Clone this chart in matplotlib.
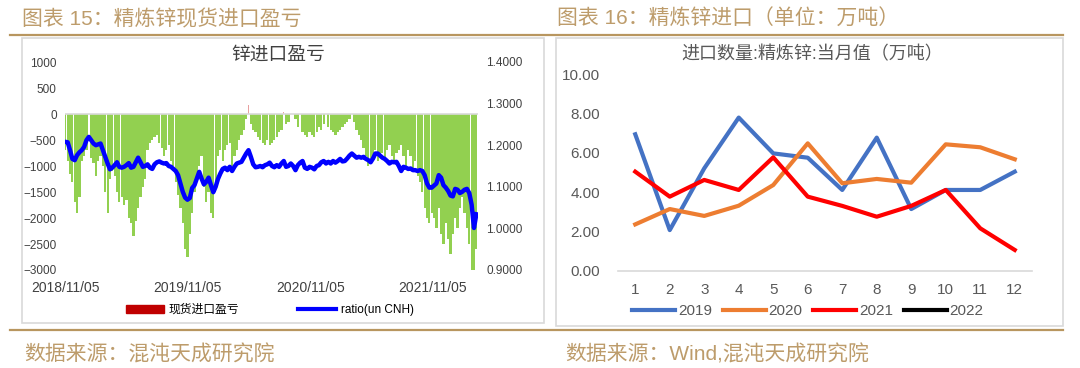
import numpy as np
import matplotlib
matplotlib.use("Agg")
import matplotlib.pyplot as plt
import matplotlib.dates as mdates
from matplotlib.patches import Rectangle, Patch
from matplotlib.lines import Line2D

plt.rcParams['font.family'] = ['Liberation Sans', 'Noto Sans CJK SC', 'DejaVu Sans']

# ---- left chart: weekly import profit/loss and CNH ratio ----
start = np.datetime64('2018-11-05')
profit = [-700, -900, -1150, -1300, -1700, -1900, -1600, -900, -800, -700,
          380, -850, -950, -1200, -900, -800, -1000, -1500, -1900, -1250,
          -1100, -1200, -1500, -1700, -1600, -1750, -1650, -2000, -2100, -2350,
          -2050, -1800, -1600, -1400, -1250, -700, -550, -500, -450, -400,
          -550, -650, -800, -700, -600, -900, -1000, -1300, -1550, -1800,
          -2100, -2600, -2750, -2300, -1900, -1500, -1200, -1000, -800, -1400,
          -1700, -1500, -1900, -2000, -1400, -800, -700, -900, -700, -600,
          -550, -1000, -800, -700, -500, -400, -300, -100, 170, -200,
          -300, -350, -450, -500, -550, -600, -500, -600, -550, -500,
          -450, -350, -300, 40, -200, -150, 100, 240, -100, -250,
          120, -350, -400, -450, -350, -400, -450, -350, -250, -300,
          -200, 130, -250, -300, -350, -400, -350, -300, -250, -200,
          -150, -100, 80, -150, -300, -400, -500, -650, -800, -1000,
          -900, -800, -700, -900, -800, -750, -900, -700, -600, -800,
          -900, -750, -700, -600, -800, -1000, -700, -800, -1100, -900,
          -1200, -1300, -1500, -1800, -2000, -2100, -1900, -2000, -2200, -1800,
          -2300, -2500, -2100, -2400, -2700, -2300, -2000, -2200, -1800, -1600,
          -1900, -2200, -2500, -3000, -3000, -2600]
ratio = [1.208, 1.207, 1.188, 1.167, 1.164, 1.176, 1.183, 1.188, 1.196, 1.212,
         1.220, 1.212, 1.204, 1.200, 1.202, 1.204, 1.188, 1.172, 1.156, 1.142,
         1.146, 1.152, 1.159, 1.148, 1.146, 1.148, 1.152, 1.157, 1.146, 1.148,
         1.159, 1.170, 1.159, 1.148, 1.150, 1.154, 1.146, 1.143, 1.154, 1.159,
         1.161, 1.158, 1.156, 1.157, 1.150, 1.148, 1.143, 1.138, 1.128, 1.108,
         1.088, 1.074, 1.069, 1.073, 1.097, 1.104, 1.120, 1.136, 1.120, 1.106,
         1.112, 1.122, 1.104, 1.087, 1.100, 1.119, 1.132, 1.143, 1.146, 1.140,
         1.148, 1.138, 1.148, 1.156, 1.158, 1.160, 1.170, 1.180, 1.188, 1.172,
         1.154, 1.147, 1.148, 1.150, 1.147, 1.152, 1.154, 1.158, 1.150, 1.147,
         1.152, 1.148, 1.156, 1.162, 1.148, 1.150, 1.156, 1.150, 1.140, 1.152,
         1.158, 1.162, 1.146, 1.143, 1.148, 1.146, 1.142, 1.150, 1.152, 1.159,
         1.162, 1.156, 1.160, 1.156, 1.162, 1.158, 1.162, 1.167, 1.161, 1.162,
         1.168, 1.175, 1.180, 1.175, 1.170, 1.172, 1.170, 1.172, 1.167, 1.164,
         1.159, 1.168, 1.180, 1.180, 1.175, 1.170, 1.167, 1.162, 1.156, 1.160,
         1.159, 1.160, 1.150, 1.138, 1.148, 1.146, 1.143, 1.144, 1.140, 1.140,
         1.138, 1.140, 1.138, 1.128, 1.108, 1.098, 1.098, 1.103, 1.108, 1.128,
         1.122, 1.104, 1.098, 1.090, 1.079, 1.077, 1.095, 1.093, 1.085, 1.088,
         1.093, 1.095, 1.085, 1.057, 1.001, 1.034]
date_ticks = ['2018-11-05', '2019-11-05', '2020-11-05', '2021-11-05']
date_labels = ['2018/11/05', '2019/11/05', '2020/11/05', '2021/11/05']

# ---- right chart: monthly refined zinc imports ----
months = list(range(1, 13))
imp_2019 = [6.95, 2.08, 5.22, 7.80, 5.98, 5.76, 4.12, 6.78, 3.15, 4.12, 4.12, 5.05]
imp_2020 = [2.37, 3.15, 2.80, 3.32, 4.37, 6.49, 4.46, 4.68, 4.49, 6.44, 6.29, 5.68]
imp_2021 = [5.05, 3.78, 4.63, 4.12, 5.78, 3.78, 3.31, 2.76, 3.31, 4.12, 2.17, 1.07]
imp_2022 = []

gold = '#b8965f'
gray_txt = '#595959'

fig = plt.figure(figsize=(10.8, 3.68), dpi=100)

# frame decoration
fig.add_artist(Line2D([10/1080, 1063/1080], [1-35/368, 1-35/368], color=gold, lw=1.6))
fig.add_artist(Line2D([10/1080, 1063/1080], [1-330/368, 1-330/368], color=gold, lw=1.6))
fig.add_artist(Rectangle((22/1080, 1-323/368), 522/1080, 285/368, fill=False,
                         edgecolor='#d9d9d9', lw=1.2))
fig.add_artist(Rectangle((556/1080, 1-326/368), 507/1080, 288/368, fill=False,
                         edgecolor='#d9d9d9', lw=1.2))
fig.text(22/1080, 1-19/368, '图表 15：精炼锌现货进口盈亏', color='#bd9c6b', fontsize=15,
         va='center', ha='left')
fig.text(557/1080, 1-19/368, '图表 16：精炼锌进口（单位：万吨）', color='#bd9c6b', fontsize=15,
         va='center', ha='left')
fig.text(24/1080, 1-354/368, '数据来源：混沌天成研究院', color='#bd9c6b', fontsize=15,
         va='center', ha='left')
fig.text(565/1080, 1-354/368, '数据来源：Wind,混沌天成研究院', color='#bd9c6b', fontsize=15,
         va='center', ha='left')

# left chart
dates = start + np.arange(len(profit)) * np.timedelta64(7, 'D')
x = mdates.date2num(dates.astype('datetime64[D]').astype(object))
profit = np.array(profit)
ax = fig.add_axes([65/1080, 1-270/368, 413/1080, 208/368])
neg = profit < 0
ax.bar(x[neg], profit[neg], width=6.6, color='#92d050', linewidth=0)
ax.bar(x[~neg], profit[~neg], width=1.5, color='#e8a0a0', linewidth=0)
ax.axhline(0, color='#d9d9d9', lw=1.2, zorder=1)
ax.set_ylim(-3000, 1000)
ax.set_yticks(range(-3000, 1001, 500))
ax.set_xlim(mdates.date2num(np.datetime64('2018-11-04').astype(object)),
            mdates.date2num(np.datetime64('2022-03-19').astype(object)))
ax.set_xticks([mdates.date2num(np.datetime64(d).astype(object)) for d in date_ticks])
ax.set_xticklabels(date_labels)
ax.tick_params(axis='x', length=0, pad=8, labelsize=10, colors='#404040')
ax.tick_params(axis='y', length=0, pad=6, labelsize=8.5, colors='#404040')
for s in ax.spines.values():
    s.set_visible(False)

ax2 = ax.twinx()
ax2.plot(x, ratio, color='#0000ff', lw=3.2)
ax2.set_ylim(0.9, 1.4)
ax2.set_yticks([0.9, 1.0, 1.1, 1.2, 1.3, 1.4])
ax2.set_yticklabels(['%.4f' % v for v in [0.9, 1.0, 1.1, 1.2, 1.3, 1.4]])
ax2.tick_params(axis='y', length=0, pad=6, labelsize=8.5, colors='#404040')
for s in ax2.spines.values():
    s.set_visible(False)

fig.text(278/1080, 1-55/368, '锌进口盈亏', fontsize=13.5, ha='center', va='center', color='#404040')
h1 = Patch(color='#c00000')
h2 = Line2D([], [], color='#0000ff', lw=3)
fig.legend([h1, h2], ['现货进口盈亏', 'ratio(un CNH)'], loc='center',
           bbox_to_anchor=(270/1080, 1-310/368), ncol=2, frameon=False, fontsize=8.5,
           handlelength=3.2, handletextpad=0.4, columnspacing=5.0, handleheight=0.6)

# right chart
bx = fig.add_axes([618/1080, 1-271/368, 414/1080, 196.7/368])
l19, = bx.plot(months, imp_2019, color='#4472c4', lw=3)
l20, = bx.plot(months, imp_2020, color='#ed7d31', lw=3)
l21, = bx.plot(months, imp_2021, color='#ff0000', lw=3)
l22, = bx.plot(months[:len(imp_2022)], imp_2022, color='#000000', lw=3)
bx.set_xlim(0.5, 12.5)
bx.set_ylim(0, 10)
bx.set_yticks([0, 2, 4, 6, 8, 10])
bx.set_yticklabels(['%.2f' % v for v in [0, 2, 4, 6, 8, 10]])
bx.set_xticks(months)
bx.tick_params(axis='y', length=0, pad=13, labelsize=11, colors=gray_txt)
bx.tick_params(axis='x', length=0, pad=9, labelsize=11, colors=gray_txt)
for k, s in bx.spines.items():
    s.set_visible(k == 'bottom')
bx.spines['bottom'].set_color('#d9d9d9')
bx.spines['bottom'].set_linewidth(1.2)
fig.text(812/1080, 1-55/368, '进口数量:精炼锌:当月值（万吨）', fontsize=13, ha='center',
         va='center', color=gray_txt)
fig.legend([l19, l20, l21, l22], ['2019', '2020', '2021', '2022'], loc='center',
           bbox_to_anchor=(808/1080, 1-311/368), ncol=4, frameon=False, fontsize=11,
           handlelength=2.8, handletextpad=0.2, columnspacing=0.7, labelcolor=gray_txt)

fig.savefig('out.png', dpi=100)
